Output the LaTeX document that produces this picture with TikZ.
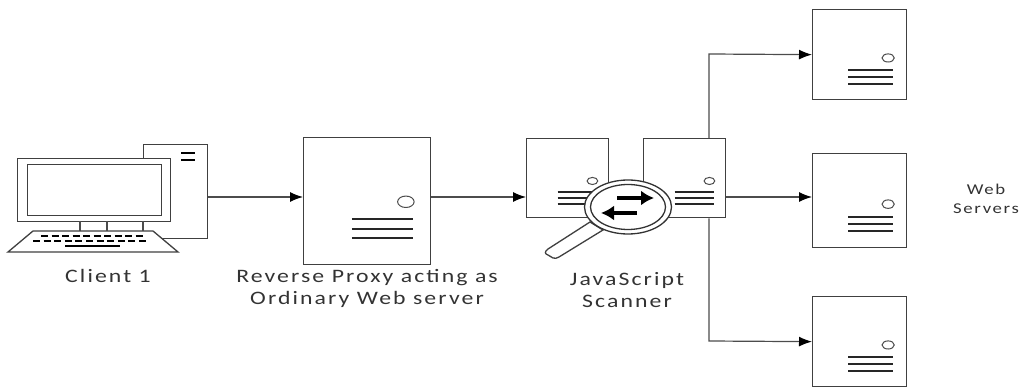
\documentclass[tikz,border=0pt]{standalone}
\usepackage{fontspec}
\setmainfont[FakeStretch=1.25,LetterSpace=11]{Carlito}
\usetikzlibrary{arrows.meta,positioning,shapes.geometric,calc}
\tikzstyle{srv} = [draw=black!75,fill=white,line width=1.3pt,inner sep=0,anchor=north west]
\tikzstyle{link} = [-{Latex[length=13pt,width=10pt,black]},black!70,line width=1.2pt]
\tikzstyle{plain} = [black!70,line width=1.2pt]
\tikzstyle{lbl} = [font=\fontsize{19}{22}\selectfont,align=center,text=black!80]
\tikzstyle{lblweb} = [font=\fontsize{15}{18.5}\selectfont,align=center,text=black!80]
\tikzstyle{slots} = [line width=2pt,black!85]
\tikzstyle{lens} = [draw=black!80,line width=1.3pt,ellipse,inner sep=0]
\tikzstyle{swap} = [-{Latex[length=13pt,width=15pt]},black,line width=3.5pt]
% one server: name, left, top, width, height, shift of the parts
\newcommand{\serverbox}[6]{%
  \node[srv,minimum width=#4pt,minimum height=#5pt] (#1) at (#2,#3) {};
  \draw[black!70,line width=1pt] ($(#1.north west)+(0.81*#4,{(0.544+#6)*#5})$) ellipse [x radius=0.065*#4,y radius=0.045*#5];
  \foreach \yy in {0.68,0.755,0.83}
    \draw[slots] ($(#1.north west)+(0.385*#4,{(\yy+#6)*#5})$) -- ($(#1.north west)+(0.865*#4,{(\yy+#6)*#5})$);
}
\begin{document}
\begin{tikzpicture}[x=1pt,y=-1pt]
  \useasboundingbox (0,0) rectangle (1026,387);
  % client
  \node[srv,minimum width=64pt,minimum height=94pt] (tower) at (143,144) {};
  \draw[black,line width=1.8pt] (181,153) -- (195,153) (181,160) -- (195,160);
  \node[srv,minimum width=153pt,minimum height=63pt] (monitor) at (17,158) {};
  \node[srv,minimum width=134pt,minimum height=51pt] (screen) at (27,164) {};
  \foreach \xx in {80,107,143}
    \draw[plain] (\xx,221) -- (\xx,231);
  \draw[srv] (33,231) -- (153,231) -- (178,252) -- (8,252) -- cycle;
  \foreach \xx in {0,...,9}
    \draw[black,line width=2pt] (41+\xx*10.5,236.5) -- (48+\xx*10.5,236.5);
  \foreach \xx in {0,...,10}
    \draw[black,line width=2pt] (33+\xx*10.6,241) -- (40+\xx*10.6,241);
  \draw[black,line width=2.4pt] (65,246) -- (120,246);
  \node[lbl] (client) at (108,276) {Client 1};
  % proxy
  \serverbox{proxy}{303}{137}{127}{127}{-0.034}
  \node[lbl] (proxytxt) at (367,288) {Reverse Proxy acting as\\Ordinary Web server};
  % scanner
  \serverbox{scanl}{526}{138}{82}{79}{0}
  \serverbox{scanr}{643}{138}{82}{79}{0}
  \draw[srv] (590,222) -- (548,249) .. controls (544,252) and (545,254) .. (548,255) -- (553,258) .. controls (555,259) and (557,258) .. (559,257) -- (603,230) -- cycle;
  \node[lens,fill=white,minimum width=87pt,minimum height=54pt] (lensout) at (628,207) {};
  \node[lens,minimum width=75pt,minimum height=45pt] (lensin) at (628,207) {};
  \draw[swap] (617,198) -- (654,198);
  \draw[swap] (637,213) -- (601,213);
  \node[lbl] (scantxt) at (627,290) {JavaScript\\Scanner};
  % web servers
  \serverbox{webt}{812}{9}{94}{90}{0}
  \serverbox{webm}{812}{153}{94}{94}{0}
  \serverbox{webb}{812}{296}{94}{90}{0}
  \node[lblweb] (webtxt) at (986,199) {Web\\Servers};
  % links
  \coordinate (row) at (0,197);
  \coordinate (topc) at (709,54);
  \coordinate (botc) at (709,341);
  \draw[link] (row -| tower.east) -- (row -| proxy.west);
  \draw[link] (row -| proxy.east) -- (row -| scanl.west);
  \draw[link] (row -| scanr.east) -- (row -| webm.west);
  \draw[link] (scanr.north -| topc) -- (topc) -- (webt.west);
  \draw[link] (scanr.south -| botc) -- (botc) -- (webb.west);
\end{tikzpicture}
\end{document}
